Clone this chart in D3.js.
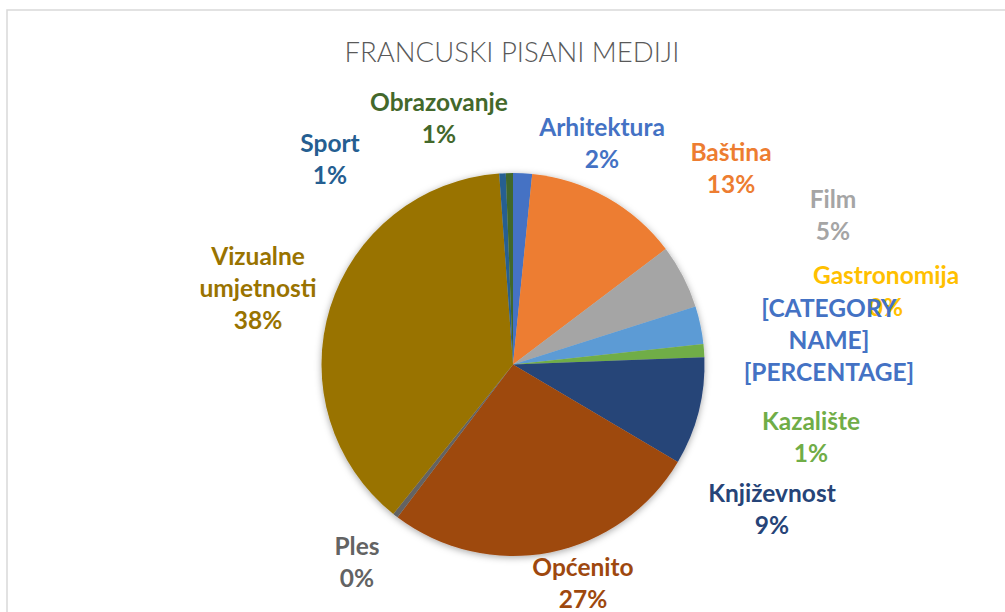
<!DOCTYPE html>
<html>
<head>
<meta charset="utf-8">
<script src="https://cdn.jsdelivr.net/npm/d3@7"></script>
<style>
  html, body { margin: 0; padding: 0; background: #fff; }
  svg { display: block; }
</style>
</head>
<body>
<div id="chart"></div>
<script>
// Share of coverage per topic in French print media (percent)
const categories = [
  "Arhitektura", "Baština", "Film", "Gastronomija", "[CATEGORY NAME]",
  "Kazalište", "Književnost", "Općenito", "Ples", "Vizualne umjetnosti",
  "Sport", "Obrazovanje"
];
const shares = [1.6, 13.1, 5.4, 0, 3.2, 1.1, 9.1, 26.8, 0.45, 38.1, 0.55, 0.6];
const sliceColors = [
  "#4472C4", "#ED7D31", "#A5A5A5", "#FFC000", "#5B9BD5", "#70AD47",
  "#264478", "#9E480E", "#636363", "#997300", "#255E91", "#43682B"
];
const labelColors = [
  "#4472C4", "#ED7D31", "#A5A5A5", "#FFC000", "#4472C4", "#70AD47",
  "#264478", "#9E480E", "#636363", "#997300", "#255E91", "#43682B"
];
// Line breaks used in the data labels
const labelLines = [
  ["Arhitektura"], ["Baština"], ["Film"], ["Gastronomija"],
  ["[CATEGORY", "NAME]"], ["Kazalište"], ["Književnost"], ["Općenito"],
  ["Ples"], ["Vizualne", "umjetnosti"], ["Sport"], ["Obrazovanje"]
];
const title = "FRANCUSKI PISANI MEDIJI";

// Layout
const width = 1005, height = 612;
const cx = 513, cy = 364.5, radius = 191.5;
// Label anchor (centre x, first baseline y) for each category
const labelAnchor = [
  [602, 136], [731, 161], [833, 208], [886, 284], [829, 317],
  [811, 430], [772, 502], [583, 576], [357, 555], [258, 265],
  [330, 152], [439, 111]
];
const lineHeight = 32;
const fmtPct = d3.format(".0%");

const svg = d3.select("#chart").append("svg")
  .attr("width", width).attr("height", height);

const defs = svg.append("defs");
const shadow = defs.append("filter").attr("id", "pieShadow")
  .attr("x", "-20%").attr("y", "-20%").attr("width", "140%").attr("height", "140%");
shadow.append("feDropShadow")
  .attr("dx", 0).attr("dy", 1.5).attr("stdDeviation", 3.5)
  .attr("flood-color", "#000").attr("flood-opacity", 0.35);

// Chart area frame
svg.append("rect")
  .attr("x", 7).attr("y", 10).attr("width", 1010).attr("height", 620)
  .attr("fill", "#fff").attr("stroke", "#d9d9d9").attr("stroke-width", 1.5);

svg.append("text")
  .attr("x", 512).attr("y", 62)
  .attr("text-anchor", "middle")
  .attr("font-family", "Lato, 'Open Sans', sans-serif")
  .attr("font-weight", 300)
  .attr("font-size", 27.5)
  .attr("fill", "#595959")
  .text(title);

const data = categories.map((c, i) => ({ name: c, value: shares[i], i }));
const total = d3.sum(shares);

const pie = d3.pie().value(d => d.value).sort(null);
const arc = d3.arc().innerRadius(0).outerRadius(radius);
const arcs = pie(data);

const g = svg.append("g").attr("transform", `translate(${cx},${cy})`);
g.append("g").attr("filter", "url(#pieShadow)")
  .selectAll("path").data(arcs).join("path")
  .attr("d", arc)
  .attr("fill", d => sliceColors[d.data.i]);

// Data labels: category name followed by its share
const labels = svg.append("g")
  .attr("font-family", "Lato, 'Open Sans', sans-serif")
  .attr("font-weight", 700)
  .attr("font-size", 24.5)
  .attr("text-anchor", "middle");

data.forEach((d, i) => {
  const isPlaceholder = d.name === "[CATEGORY NAME]";
  const lines = labelLines[i].concat(isPlaceholder ? ["[PERCENTAGE]"] : [fmtPct(d.value / total)]);
  const [ax, ay] = labelAnchor[i];
  const t = labels.append("text").attr("fill", labelColors[i]);
  lines.forEach((ln, k) => {
    t.append("tspan").attr("x", ax).attr("y", ay + k * lineHeight).text(ln);
  });
});
</script>
</body>
</html>
